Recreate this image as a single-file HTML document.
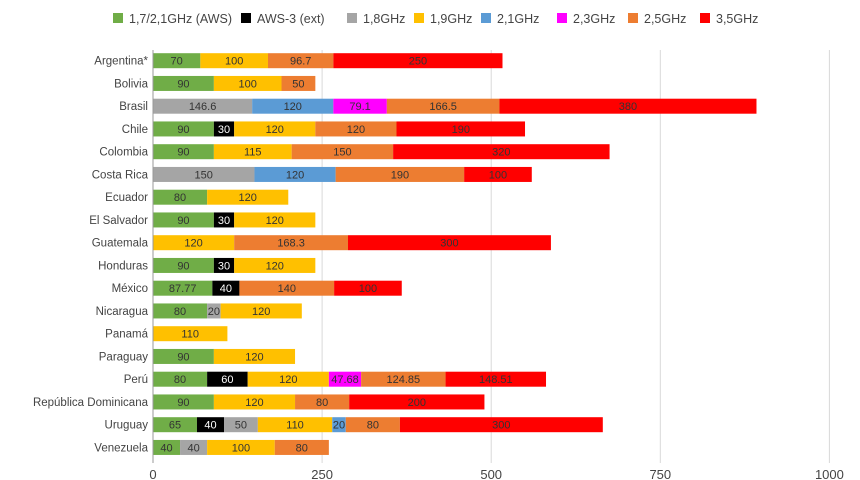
<!DOCTYPE html>
<html><head><meta charset="utf-8"><style>
body{margin:0;background:#fff}
svg{display:block;font-family:"Liberation Sans",sans-serif}
</style></head><body>
<svg id="c" width="860" height="480" xmlns="http://www.w3.org/2000/svg"></svg>
<script>
const C={a:"#70ad47",b:"#000000",g:"#a5a5a5",y:"#ffc000",bl:"#5b9bd5",m:"#ff00ff",o:"#ed7d31",r:"#ff0000"};
const rows=[
["Argentina*",[["a",70],["y",100],["o",96.7],["r",250]]],
["Bolivia",[["a",90],["y",100],["o",50]]],
["Brasil",[["g",146.6],["bl",120],["m",79.1],["o",166.5],["r",380]]],
["Chile",[["a",90],["b",30],["y",120],["o",120],["r",190]]],
["Colombia",[["a",90],["y",115],["o",150],["r",320]]],
["Costa Rica",[["g",150],["bl",120],["o",190],["r",100]]],
["Ecuador",[["a",80],["y",120]]],
["El Salvador",[["a",90],["b",30],["y",120]]],
["Guatemala",[["y",120],["o",168.3],["r",300]]],
["Honduras",[["a",90],["b",30],["y",120]]],
["México",[["a",87.77],["b",40],["o",140],["r",100]]],
["Nicaragua",[["a",80],["g",20],["y",120]]],
["Panamá",[["y",110]]],
["Paraguay",[["a",90],["y",120]]],
["Perú",[["a",80],["b",60],["y",120],["m",47.68],["o",124.85],["r",148.51]]],
["República Dominicana",[["a",90],["y",120],["o",80],["r",200]]],
["Uruguay",[["a",65],["b",40],["g",50],["y",110],["bl",20],["o",80],["r",300]]],
["Venezuela",[["a",40],["g",40],["y",100],["o",80]]]];
const X0=153,S=0.6764;let s="";
for(const v of [250,500,750,1000]){const x=X0+v*S;s+=`<line x1="${x}" y1="50" x2="${x}" y2="463" stroke="#d9d9d9"/>`;}
for(const v of [0,250,500,750,1000]){const x=X0+v*S;s+=`<text x="${x}" y="479" font-size="13" fill="#444" text-anchor="middle">${v}</text>`;}
rows.forEach((r,i)=>{const cy=60.7+i*22.75;
s+=`<text x="148" y="${cy+4}" font-size="11.5" fill="#444" text-anchor="end">${r[0]}</text>`;
let x=X0;for(const [k,v] of r[1]){const w=v*S;
s+=`<rect x="${x}" y="${cy-7.5}" width="${w}" height="15" fill="${C[k]}"/>`;
s+=`<text x="${x+w/2}" y="${cy+4}" font-size="11" fill="${k=='b'?'#fff':'#333'}" text-anchor="middle">${v}</text>`;x+=w;}});
s+=`<line x1="${X0}" y1="50" x2="${X0}" y2="463" stroke="#999"/>`;
const L=[["a","1,7/2,1GHz (AWS)",113],["b","AWS-3 (ext)",241],["g","1,8GHz",347],["y","1,9GHz",414],["bl","2,1GHz",481],["m","2,3GHz",557],["o","2,5GHz",628],["r","3,5GHz",700]];
for(const [k,t,x] of L){s+=`<rect x="${x}" y="13" width="10" height="10" fill="${C[k]}"/><text x="${x+16}" y="23" font-size="12.5" fill="#444">${t}</text>`;}
document.getElementById("c").innerHTML=s;
</script>
</body></html>
